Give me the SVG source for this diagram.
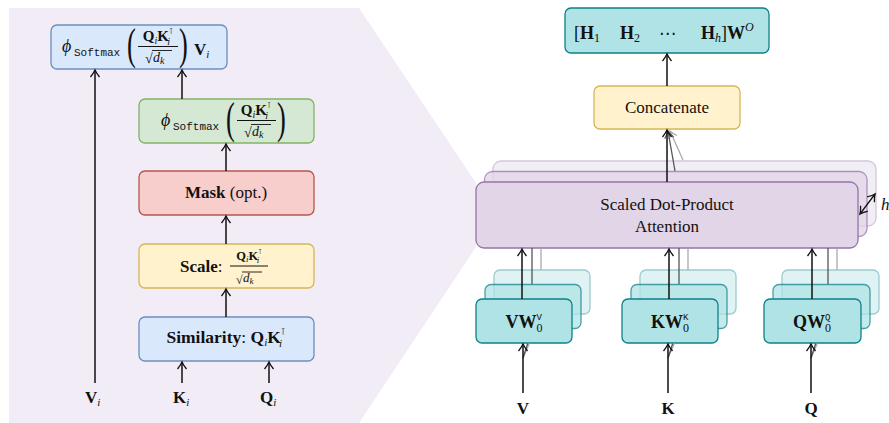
<svg xmlns="http://www.w3.org/2000/svg" width="889" height="423" viewBox="0 0 889 423">
<defs>
<marker id="ah" viewBox="-10 -6 12 12" refX="0" refY="0" markerWidth="12" markerHeight="12" markerUnits="userSpaceOnUse" orient="auto-start-reverse">
<path d="M-7,-4.5 Q-2.5,-1 0,0 Q-2.5,1 -7,4.5" fill="none" stroke="#111" stroke-width="1.3"/>
</marker>
<marker id="ahg1" viewBox="-10 -6 12 12" refX="0" refY="0" markerWidth="12" markerHeight="12" markerUnits="userSpaceOnUse" orient="auto">
<path d="M-7,-4.5 Q-2.5,-1 0,0 Q-2.5,1 -7,4.5" fill="none" stroke="#555" stroke-width="1.2"/>
</marker>
<marker id="ahg2" viewBox="-10 -6 12 12" refX="0" refY="0" markerWidth="12" markerHeight="12" markerUnits="userSpaceOnUse" orient="auto">
<path d="M-7,-4.5 Q-2.5,-1 0,0 Q-2.5,1 -7,4.5" fill="none" stroke="#aaa" stroke-width="1.2"/>
</marker>
<style>
text{font-family:"Liberation Serif","DejaVu Serif",serif;fill:#111}
.mono{font-family:"Liberation Mono","DejaVu Sans Mono",monospace}
.sym{font-family:"DejaVu Sans",sans-serif}
.b{font-weight:bold}
.it{font-style:italic}
.ar{stroke:#111;stroke-width:1.5;fill:none;marker-end:url(#ah)}
.g1{stroke:#555;stroke-width:1.3;fill:none}
.g2{stroke:#aaa;stroke-width:1.3;fill:none}
.blue{fill:#dae8fc;stroke:#6c8ebf;stroke-width:1.3}
.green{fill:#d5e8d4;stroke:#82b366;stroke-width:1.3}
.red{fill:#f8cecc;stroke:#b85450;stroke-width:1.3}
.yel{fill:#fff2cc;stroke:#d6b656;stroke-width:1.3}
.teal{fill:#b0e3e6;stroke:#0e8088;stroke-width:1.3}
.purp{fill:#e1d5e7;stroke:#9673a6;stroke-width:1.3}
.bar{stroke:#111;stroke-width:1.1}
</style>
</defs>

<!-- background panel and funnel -->
<g id="panel">
<rect x="9" y="8" width="351" height="415" fill="#f1ecf5"/>
<polygon points="359,8 476,183 476,247 359,423" fill="#f1ecf5"/>
</g>

<!-- left panel nodes -->
<g id="out-left">
<rect class="blue" x="51" y="25" width="176" height="44" rx="6"/>
<text x="62" y="52" font-size="18" class="it">ϕ</text>
<text x="74" y="56" font-size="11" class="mono">Softmax</text>
<text transform="translate(127,59) scale(0.6,1)" font-size="44">(</text>
<text x="158" y="41" text-anchor="middle" font-size="15"><tspan class="b">Q</tspan><tspan class="it" font-size="10" dy="3">i</tspan><tspan class="b" dy="-3">K</tspan><tspan class="sym" font-size="8" dy="-7">⊺</tspan><tspan class="it" font-size="10" dx="-6" dy="11">i</tspan></text>
<line class="bar" x1="138" y1="46.5" x2="178" y2="46.5"/>
<text x="145" y="63" font-size="14">√</text>
<line x1="152" y1="50.5" x2="172" y2="50.5" stroke="#111" stroke-width="0.9"/>
<text x="153" y="62" font-size="14" class="it">d<tspan font-size="10" dy="2">k</tspan></text>
<text transform="translate(179,59) scale(0.6,1)" font-size="44">)</text>
<text x="194" y="55" font-size="17" class="b">V<tspan font-size="11" class="it" font-weight="normal" dy="3">i</tspan></text>
</g>

<g id="softmax">
<rect class="green" x="139" y="99" width="175" height="44" rx="6"/>
<text x="161" y="126" font-size="18" class="it">ϕ</text>
<text x="173" y="130" font-size="11" class="mono">Softmax</text>
<text transform="translate(226,133) scale(0.6,1)" font-size="44">(</text>
<text x="256" y="115" text-anchor="middle" font-size="15"><tspan class="b">Q</tspan><tspan class="it" font-size="10" dy="3">i</tspan><tspan class="b" dy="-3">K</tspan><tspan class="sym" font-size="8" dy="-7">⊺</tspan><tspan class="it" font-size="10" dx="-6" dy="11">i</tspan></text>
<line class="bar" x1="237" y1="120.5" x2="276" y2="120.5"/>
<text x="244" y="137" font-size="14">√</text>
<line x1="251" y1="124.5" x2="271" y2="124.5" stroke="#111" stroke-width="0.9"/>
<text x="252" y="136" font-size="14" class="it">d<tspan font-size="10" dy="2">k</tspan></text>
<text transform="translate(277,133) scale(0.6,1)" font-size="44">)</text>
</g>

<g id="mask">
<rect class="red" x="139" y="171" width="175" height="44" rx="6"/>
<text x="226" y="197.5" text-anchor="middle" font-size="17"><tspan class="b">Mask</tspan> (opt.)</text>
</g>

<g id="scale">
<rect class="yel" x="139" y="244" width="175" height="44" rx="6"/>
<text x="180" y="272" font-size="17"><tspan class="b">Scale</tspan>:</text>
<text x="249" y="260" text-anchor="middle" font-size="12.5"><tspan class="b">Q</tspan><tspan class="it" font-size="9" dy="2">i</tspan><tspan class="b" dy="-2">K</tspan><tspan class="sym" font-size="7" dy="-6">⊺</tspan><tspan class="it" font-size="9" dx="-5" dy="9">i</tspan></text>
<line class="bar" x1="230" y1="266" x2="268" y2="266"/>
<text x="236" y="284" font-size="12">√</text>
<line x1="242" y1="272" x2="262" y2="272" stroke="#111" stroke-width="0.9"/>
<text x="243" y="282" font-size="13" class="it">d<tspan font-size="9" dy="2">k</tspan></text>
</g>

<g id="similarity">
<rect class="blue" x="139" y="317" width="175" height="44" rx="6"/>
<text x="226" y="343" text-anchor="middle" font-size="17.5"><tspan class="b">Similarity</tspan>: <tspan class="b">Q</tspan><tspan class="it" font-size="11" dy="3">i</tspan><tspan class="b" dy="-3">K</tspan><tspan class="sym" font-size="9" dy="-8">⊺</tspan><tspan class="it" font-size="11" dx="-6.5" dy="12">i</tspan></text>
</g>

<g id="inputs-left">
<text x="85" y="403" font-size="17" class="b">V<tspan font-size="11" class="it" font-weight="normal" dy="3">i</tspan></text>
<text x="173" y="403" font-size="17" class="b">K<tspan font-size="11" class="it" font-weight="normal" dy="3">i</tspan></text>
<text x="260" y="403" font-size="17" class="b">Q<tspan font-size="11" class="it" font-weight="normal" dy="3">i</tspan></text>
</g>

<!-- right side -->
<g id="output">
<rect class="teal" x="565" y="8" width="204" height="45" rx="6"/>
<text y="38.5" font-size="18"><tspan x="574">[</tspan><tspan class="b">H</tspan><tspan font-size="12" dy="3">1</tspan><tspan class="b" x="620" dy="-3">H</tspan><tspan font-size="12" dy="3">2</tspan><tspan x="659" dy="-3" class="sym" font-size="17">⋯</tspan><tspan class="b" x="701">H</tspan><tspan font-size="12" class="it" dy="3">h</tspan><tspan dy="-3">]</tspan><tspan class="b">W</tspan><tspan font-size="12" class="it" dy="-8">O</tspan></text>
</g>

<g id="concat">
<rect class="yel" x="594" y="86" width="146" height="43" rx="6"/>
<text x="667" y="113" text-anchor="middle" font-size="17">Concatenate</text>
</g>

<g id="attention">
<rect class="purp" x="493" y="161" width="383" height="65" rx="8" opacity="0.4"/>
<rect class="purp" x="484.5" y="171.5" width="382.5" height="65" rx="8" opacity="0.75"/>
<rect class="purp" x="476" y="182" width="382" height="66" rx="8"/>
<text x="667" y="210" text-anchor="middle" font-size="17">Scaled Dot-Product</text>
<text x="667" y="232" text-anchor="middle" font-size="17">Attention</text>
<text x="881" y="210" font-size="17" class="it">h</text>
</g>

<g id="proj-v">
<rect class="teal" x="494" y="270" width="96" height="44" rx="6" opacity="0.4"/>
<rect class="teal" x="485" y="284.5" width="96" height="44" rx="6" opacity="0.75"/>
<rect class="teal" x="476" y="299" width="96" height="44" rx="6"/>
<text x="524" y="328" text-anchor="middle" font-size="18" class="b">VW<tspan class="mono" font-weight="normal" font-size="9" dy="-8">V</tspan><tspan font-weight="normal" font-size="12" dx="-5.4" dy="12">0</tspan></text>
</g>

<g id="proj-k">
<rect class="teal" x="640" y="270" width="96" height="44" rx="6" opacity="0.4"/>
<rect class="teal" x="631" y="284.5" width="96" height="44" rx="6" opacity="0.75"/>
<rect class="teal" x="622" y="299" width="96" height="44" rx="6"/>
<text x="670" y="328" text-anchor="middle" font-size="18" class="b">KW<tspan class="mono" font-weight="normal" font-size="9" dy="-8">K</tspan><tspan font-weight="normal" font-size="12" dx="-5.4" dy="12">0</tspan></text>
</g>

<g id="proj-q">
<rect class="teal" x="782" y="270" width="97" height="44" rx="6" opacity="0.4"/>
<rect class="teal" x="773" y="284.5" width="97" height="44" rx="6" opacity="0.75"/>
<rect class="teal" x="764" y="299" width="97" height="44" rx="6"/>
<text x="812" y="328" text-anchor="middle" font-size="18" class="b">QW<tspan class="mono" font-weight="normal" font-size="9" dy="-8">Q</tspan><tspan font-weight="normal" font-size="12" dx="-5.4" dy="12">0</tspan></text>
</g>

<g id="inputs-right">
<text x="523" y="414" text-anchor="middle" font-size="17" class="b">V</text>
<text x="668" y="414" text-anchor="middle" font-size="17" class="b">K</text>
<text x="811" y="414" text-anchor="middle" font-size="17" class="b">Q</text>
</g>

<!-- connectors -->
<g id="connectors">
<path class="ar" d="M95 383 V70"/>
<path class="ar" d="M182 99 V70"/>
<path class="ar" d="M226 171 V144"/>
<path class="ar" d="M226 244 V216"/>
<path class="ar" d="M226 317 V289"/>
<path class="ar" d="M182 383 V362"/>
<path class="ar" d="M269 383 V362"/>

<path class="ar" d="M667 86 V54"/>
<path class="g2" d="M683 160 L670 131" marker-end="url(#ahg2)"/>
<path class="g1" d="M675 171 L668 131" marker-end="url(#ahg1)"/>
<path class="ar" d="M667 182 V130"/>

<path class="g2" d="M541 270 V248"/>
<path class="g1" d="M532 284 V248"/>
<path class="ar" d="M522 299 V249"/>
<path class="g2" d="M688 270 V248"/>
<path class="g1" d="M679 284 V248"/>
<path class="ar" d="M669 299 V249"/>
<path class="g2" d="M837 270 V248"/>
<path class="g1" d="M828 284 V248"/>
<path class="ar" d="M812 299 V249"/>

<path class="g2" d="M523 358 L529.3 343.5"/>
<path class="g1" d="M523 358 L527.7 343.5"/>
<path class="ar" d="M523 393 V344"/>
<path class="g2" d="M668 358 L674.3 343.5"/>
<path class="g1" d="M668 358 L672.7 343.5"/>
<path class="ar" d="M668 393 V344"/>
<path class="g2" d="M811 358 L817.3 343.5"/>
<path class="g1" d="M811 358 L815.7 343.5"/>
<path class="ar" d="M811 393 V344"/>

<path d="M860 214 L875 194" stroke="#111" stroke-width="1.3" fill="none" marker-start="url(#ah)" marker-end="url(#ah)"/>
</g>
</svg>
